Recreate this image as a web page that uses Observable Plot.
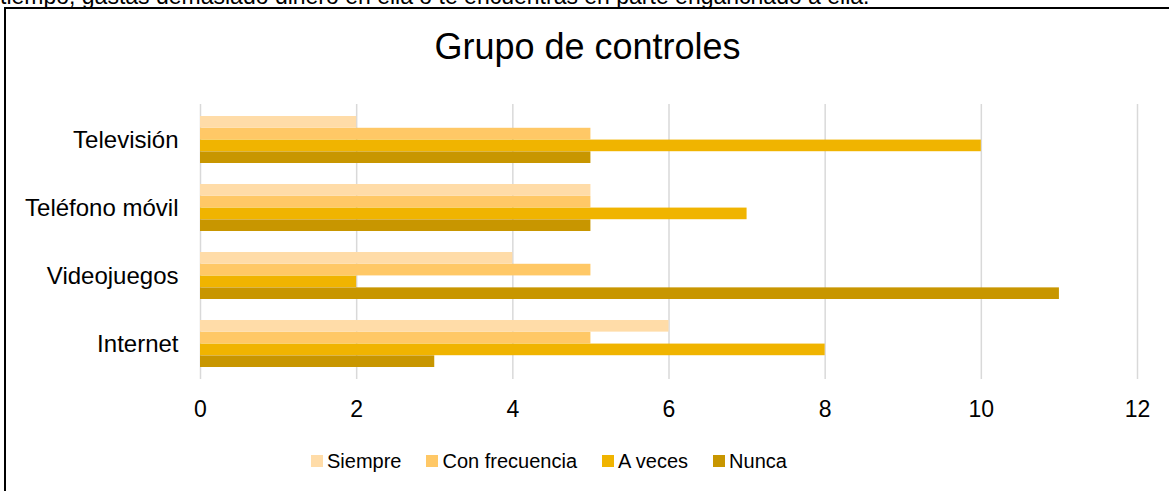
<!DOCTYPE html>
<html>
<head>
<meta charset="utf-8">
<script src="https://cdn.jsdelivr.net/npm/d3@7"></script>
<script src="https://cdn.jsdelivr.net/npm/@observablehq/plot@0.6"></script>
<style>
  html, body { margin: 0; padding: 0; background: #fff; }
  body { width: 1169px; height: 491px; overflow: hidden; position: relative;
         font-family: "Liberation Sans", Arial, sans-serif; color: #000; }
  #toptext { position: absolute; left: 0; top: -15px; font-size: 23px; line-height: 23px; white-space: nowrap; }
  #box { position: absolute; left: 4px; top: 7px; width: 1200px; height: 600px;
         border-left: 2.5px solid #000; border-top: 2px solid #000; }
  #chart { position: absolute; left: 0; top: 0; }
  #title { position: absolute; left: 0; width: 1175px; text-align: center; top: 28.5px;
           font-size: 36px; line-height: 36px; }
  #legend { position: absolute; left: 311px; top: 449px; display: flex; align-items: center;
            font-size: 20px; line-height: 24px; }
  #legend .item { display: flex; align-items: center; margin-right: 25px; }
  #legend .sw { width: 12px; height: 12px; margin-right: 4px; }
</style>
</head>
<body>
<div id="toptext">tiempo, gastas demasiado dinero en ella o te encuentras en parte enganchado a ella.</div>
<div id="box"></div>
<div id="chart"></div>
<div id="title">Grupo de controles</div>
<div id="legend"></div>
<script>
const categories = ["Televisión", "Teléfono móvil", "Videojuegos", "Internet"];
const series = ["Siempre", "Con frecuencia", "A veces", "Nunca"];
const siempre = [2, 5, 4, 6];
const conFrecuencia = [5, 5, 5, 5];
const aVeces = [10, 7, 2, 8];
const nunca = [5, 5, 11, 3];
const colors = ["#FFDCA8", "#FFC866", "#F0B400", "#C89600"];
const xTicks = [0, 2, 4, 6, 8, 10, 12];

const values = [siempre, conFrecuencia, aVeces, nunca];
const rows = [];
series.forEach((s, i) => categories.forEach((c, j) => rows.push({cat: c, series: s, value: values[i][j]})));

const H = 440, mTop = 104, mBottom = 61;
const pInner = 0.314, pOuter = 0.157;
const step = (H - mTop - mBottom) / (categories.length - pInner + 2 * pOuter);
const bw = step * (1 - pInner);
const sub = bw / series.length;

const plot = Plot.plot({
  width: 1169,
  height: H,
  marginLeft: 200,
  marginRight: 32,
  marginTop: mTop,
  marginBottom: mBottom,
  style: {fontFamily: '"Liberation Sans", Arial, sans-serif', color: "#000", background: "transparent", overflow: "visible"},
  x: {domain: [0, 12], label: null},
  y: {domain: categories, paddingInner: pInner, paddingOuter: pOuter, label: null},
  color: {domain: series, range: colors},
  marks: [
    Plot.gridX(xTicks, {stroke: "#d9d9d9", strokeOpacity: 1, strokeWidth: 1.5}),
    ...series.map((s, i) => Plot.barX(rows.filter(r => r.series === s), {
      y: "cat", x: "value", fill: "series",
      insetTop: i * sub, insetBottom: (series.length - 1 - i) * sub
    })),
    Plot.axisX({ticks: xTicks, tickSize: 0, tickPadding: 21, fontSize: 23, label: null}),
    Plot.axisY({tickSize: 0, tickPadding: 22, fontSize: 24, label: null})
  ]
});
document.getElementById("chart").appendChild(plot);

const legend = document.getElementById("legend");
series.forEach((s, i) => {
  const item = document.createElement("div");
  item.className = "item";
  const sw = document.createElement("div");
  sw.className = "sw";
  sw.style.background = colors[i];
  const t = document.createElement("span");
  t.textContent = s;
  item.appendChild(sw);
  item.appendChild(t);
  legend.appendChild(item);
});
</script>
</body>
</html>
